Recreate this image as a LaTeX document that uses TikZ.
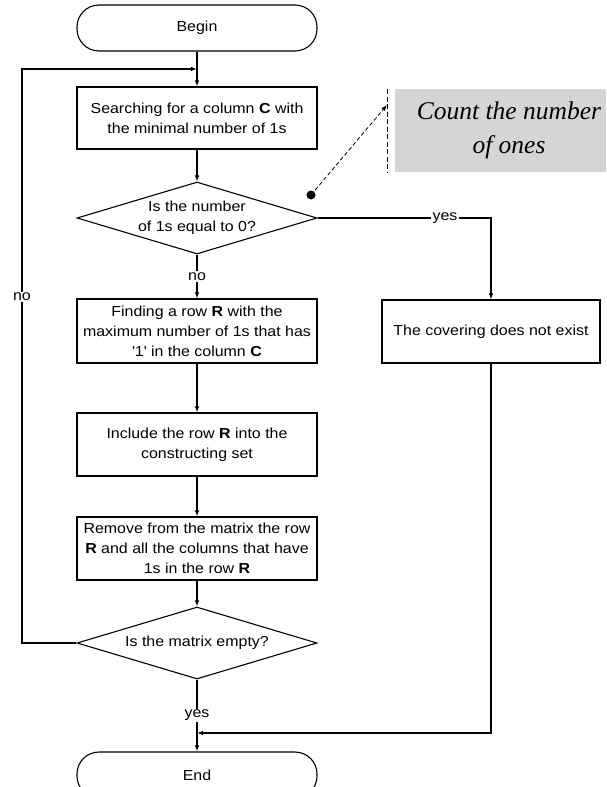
\documentclass[tikz,border=0pt]{standalone}
\usepackage{fontspec}
\setmainfont{Liberation Sans}[FakeStretch=1.1]
\newfontfamily\notefont{Liberation Serif}
\usetikzlibrary{shapes.geometric,arrows.meta}

\begin{document}
\begin{tikzpicture}[x=1pt,y=-1pt,line width=1.1pt,
  font=\fontsize{14.5}{20}\selectfont,
  every node/.style={inner sep=0pt},
  flow/.style={-{Latex[length=6pt,width=4.5pt]}},
  stepbox/.style={draw,rectangle,minimum width=240pt,align=center},
  terminal/.style={draw,rectangle,rounded corners=22pt,minimum width=240pt,minimum height=46pt},
  decision/.style={draw,diamond,aspect=3.33,minimum width=240pt,minimum height=72pt,align=center},
  lbl/.style={fill=white,inner sep=1.5pt}]

\clip (0,0) rectangle (606,787);
\useasboundingbox (0,0) rectangle (606,787);

% main column
\node[terminal] (begin) at (197,28) {Begin};
\node[stepbox,minimum height=62pt] (search) at (197,118)
  {Searching for a column \textbf{C} with\\the minimal number of 1s};
\node[decision] (zero) at (197,218) {Is the number\\of 1s equal to 0?};
\node[stepbox,minimum height=64pt] (findrow) at (197,331)
  {Finding a row \textbf{R} with the\\maximum number of 1s that has\\\textquotesingle1\textquotesingle\ in the column \textbf{C}};
\node[stepbox,minimum height=63pt] (include) at (197,444.5)
  {Include the row \textbf{R} into the\\constructing set};
\node[stepbox,minimum height=63pt] (remove) at (197,548.5)
  {Remove from the matrix the row\\\textbf{R} and all the columns that have\\1s in the row \textbf{R}};
\node[decision] (empty) at (197,643) {Is the matrix empty?};
\node[terminal] (finish) at (197,775) {End};

% right branch
\node[stepbox,minimum width=218pt,minimum height=63pt] (nocover) at (491,331.5)
  {The covering does not exist};

% annotation
\fill[gray!33] (395,89) rectangle (606,172);
\node[font=\notefont\itshape\fontsize{25.5}{34}\selectfont,align=center] (note) at (509,130)
  {Count the number\\of ones};
\coordinate (notetop) at (387,89);
\coordinate (notebot) at (387,172);
\coordinate (notetip) at (387,105);
\draw[line width=0.9pt,dash pattern=on 5pt off 2.5pt] (notetop) -- (notebot);
\node[circle,fill=black,minimum size=9pt] (dot) at (311,195) {};
\draw[line width=0.8pt,dash pattern=on 4pt off 2.5pt,-{Latex[length=6pt,width=4.5pt]}] (dot.center) -- (notetip);

% connectors
\coordinate (loopjoin) at (197,69);
\coordinate (loopleft) at (22,69);
\coordinate (loopbottom) at (22,643);
\coordinate (yesturn) at (491,218);
\coordinate (endturn) at (491,733);
\coordinate (endjoin) at (197,733);

\draw[flow] (begin) -- (search);
\draw[flow] (search) -- (zero);
\draw[flow] (zero) -- node[lbl,pos=0.5] {no} (findrow);
\draw[flow] (findrow) -- (include);
\draw[flow] (include) -- (remove);
\draw[flow] (remove) -- (empty);
\draw[flow] (empty) -- node[lbl,pos=0.5] {yes} (finish);

\draw[flow] (empty.west) -- (loopbottom) -- (loopleft) -- (loopjoin);
\node[lbl] (nolabel) at (22,297) {no};

\draw[flow] (zero.east) -- (yesturn) -- (nocover);
\node[lbl] (yeslabel) at (445,218) {yes};

\draw[flow] (nocover) -- (endturn) -- (endjoin);
\end{tikzpicture}
\end{document}
